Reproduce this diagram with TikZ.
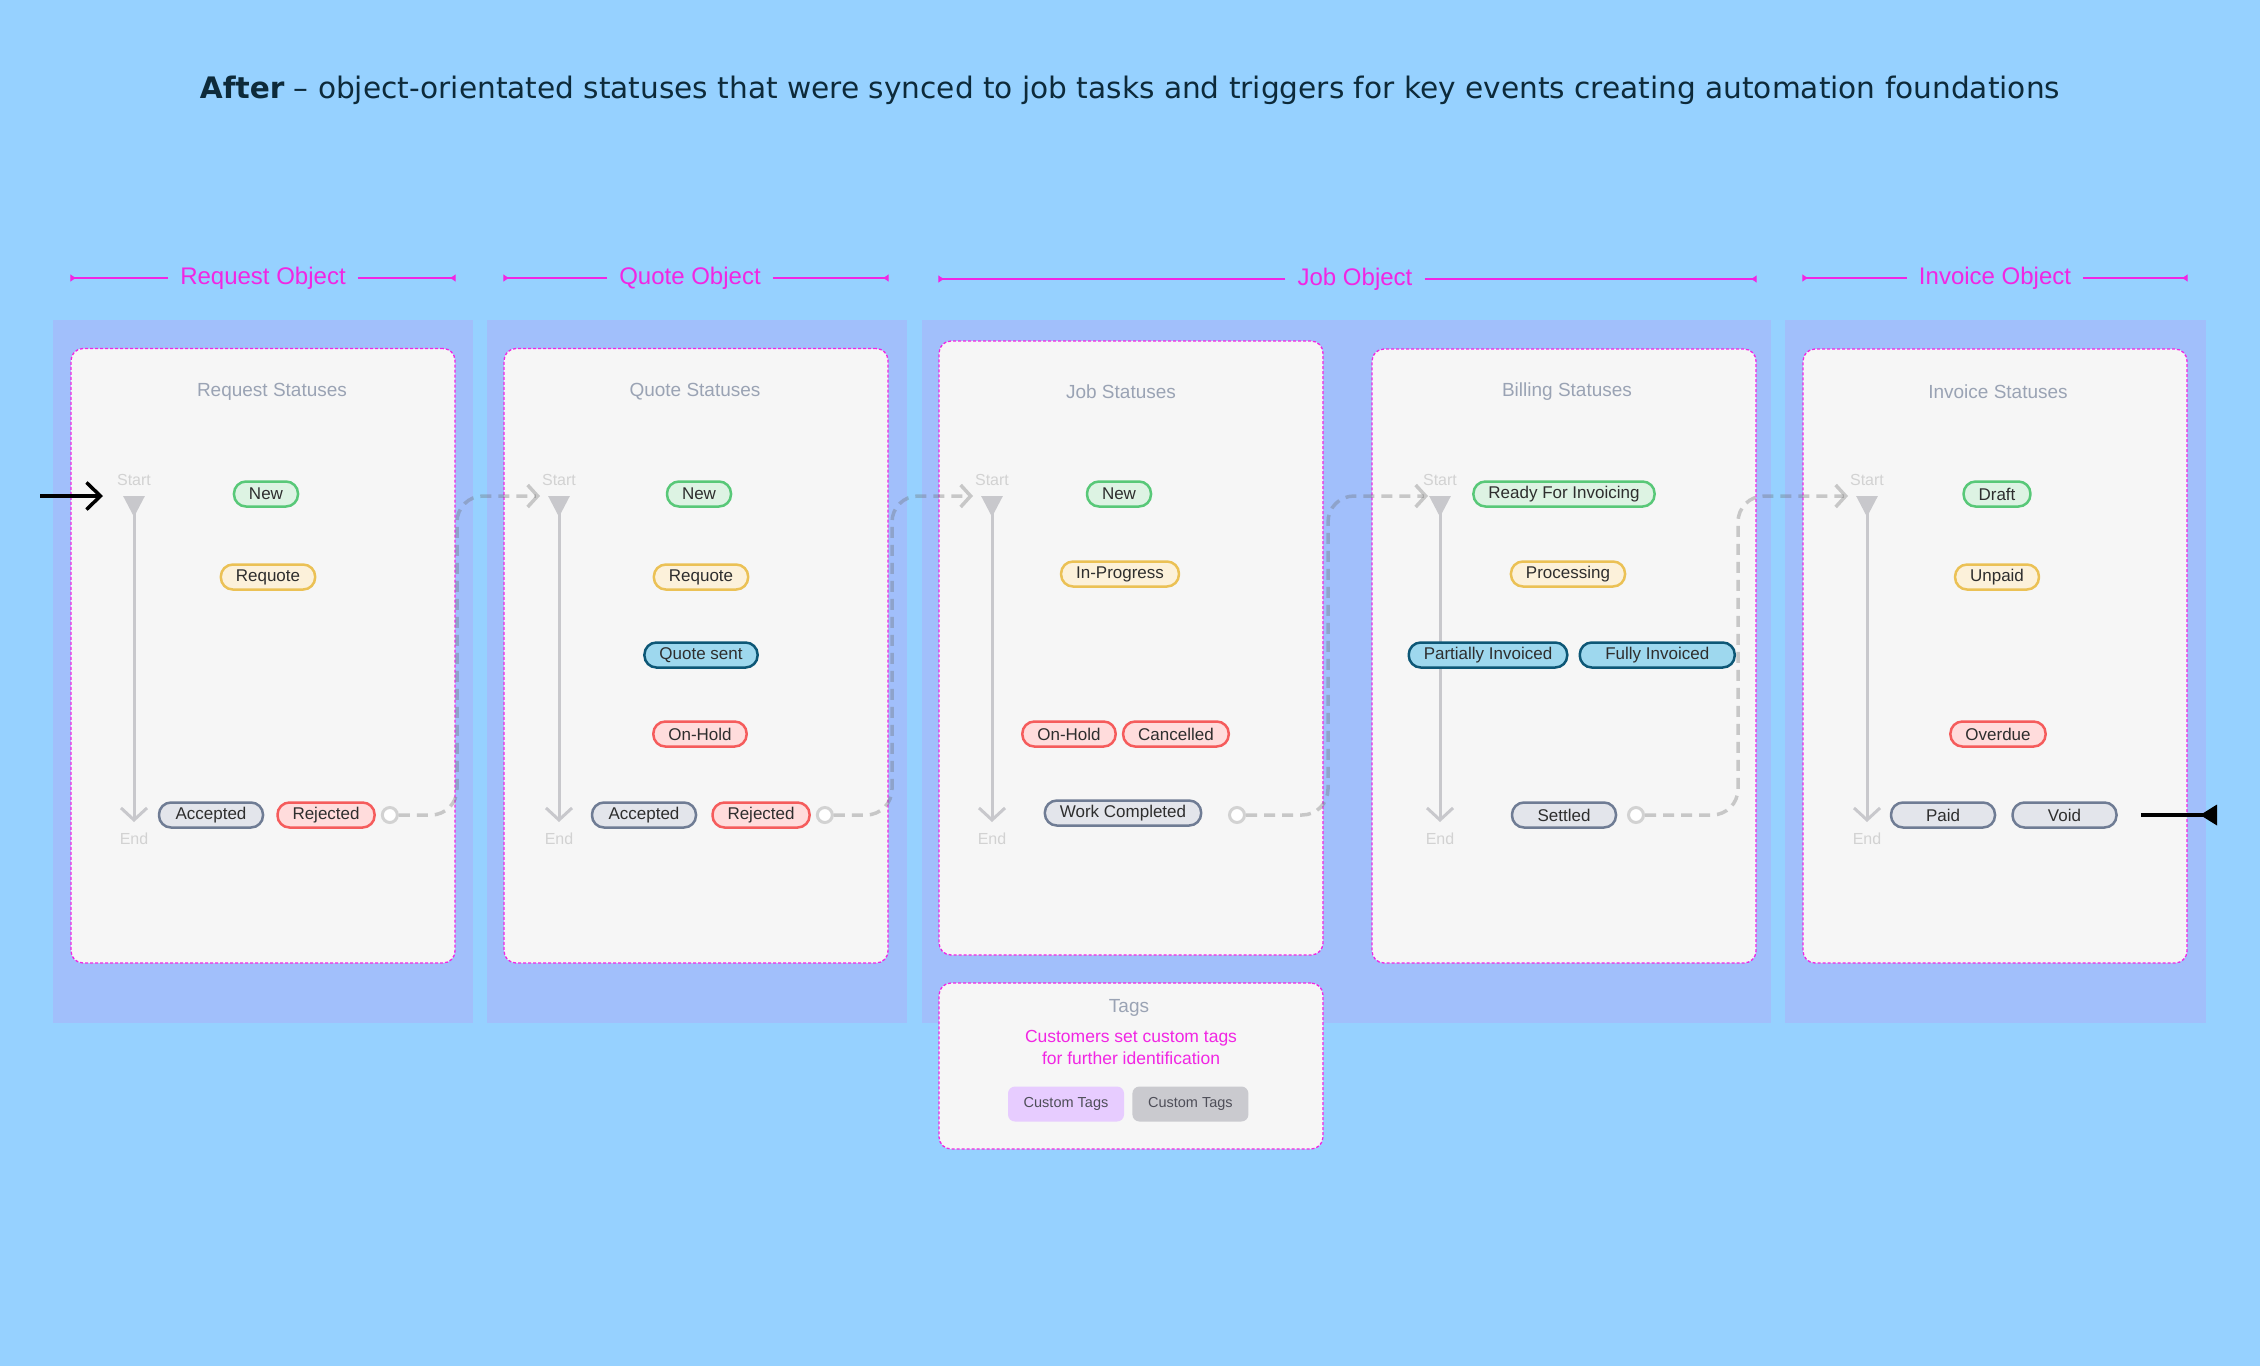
\documentclass[tikz,border=0pt]{standalone}
\usepackage{fontspec}
\setmainfont{Liberation Sans}
\newfontfamily\titlefont{DejaVu Sans}
\usepackage{xcolor}
\usetikzlibrary{arrows.meta,positioning}

\definecolor{sky}{HTML}{96D1FF}
\definecolor{panelc}{HTML}{A1BFFB}
\definecolor{cardc}{HTML}{F6F6F6}
\definecolor{mag}{HTML}{F126E3}
\definecolor{ink}{HTML}{2E2E2E}
\definecolor{mute}{HTML}{9AA3B4}
\definecolor{faint}{HTML}{D2D2D2}
\definecolor{railc}{HTML}{C8C8CC}
\definecolor{linkc}{HTML}{6A6A6A}
\definecolor{titlec}{HTML}{0D2A3A}
\definecolor{greenln}{HTML}{58C878}
\definecolor{greenfl}{HTML}{DDF3E3}
\definecolor{amberln}{HTML}{EBC155}
\definecolor{amberfl}{HTML}{FCF1DA}
\definecolor{tealln}{HTML}{0D5776}
\definecolor{tealfl}{HTML}{9ED8EE}
\definecolor{redln}{HTML}{F55C5C}
\definecolor{redfl}{HTML}{FFDCDC}
\definecolor{slateln}{HTML}{6F7C94}
\definecolor{slatefl}{HTML}{E3E5EB}
\definecolor{lilac}{HTML}{E7CCFF}
\definecolor{tagsgray}{HTML}{CACACF}
\definecolor{btntext}{HTML}{4E4E58}

\begin{document}
\begin{tikzpicture}[x=1pt,y=-1pt,node distance=12pt,
  every node/.style={font=\fontsize{17}{20}\selectfont},
  card/.style={draw=mag,fill=cardc,line width=1.3pt,dash pattern=on 3pt off 2pt,rounded corners=12pt,minimum width=384pt},
  sttitle/.style={text=mute,font=\fontsize{19}{22}\selectfont},
  objlbl/.style={text=mag,inner xsep=12pt,font=\fontsize{24}{28}\selectfont},
  objline/.style={draw=mag,line width=1.5pt,-{Latex[reversed,length=6pt,width=8pt]}},
  pill/.style={rounded corners=12pt,line width=2.5pt,minimum height=25pt,inner xsep=15pt,inner ysep=0pt,text=ink},
  stnew/.style={pill,draw=greenln,fill=greenfl},
  stwait/.style={pill,draw=amberln,fill=amberfl},
  stsent/.style={pill,draw=tealln,fill=tealfl},
  sthold/.style={pill,draw=redln,fill=redfl},
  stdone/.style={pill,draw=slateln,fill=slatefl,minimum width=104pt},
  rail/.style={draw=railc,line width=3pt,arrows={Triangle[reversed,length=21pt,width=21pt]-Straight Barb[length=12pt,width=26pt]}},
  raillbl/.style={text=faint,inner sep=0pt,font=\fontsize{16}{18}\selectfont},
  endpt/.style={circle,draw=faint,fill=white,line width=3pt,minimum size=15pt,inner sep=0pt},
  link/.style={draw=linkc,draw opacity=.33,line width=3.5pt,dash pattern=on 11pt off 7pt,rounded corners=26pt,-{Straight Barb[length=10pt,width=22pt]}},
  tagbtn/.style={rounded corners=7pt,minimum width=116pt,minimum height=35pt,text=btntext,font=\fontsize{14.5}{17}\selectfont}]
  \useasboundingbox (0,0) rectangle (2260,1366);
  \fill[sky] (0,0) rectangle (2260,1366);

  \node[font=\titlefont\fontsize{29.6}{34}\selectfont,text=titlec] (title) at (1130,90) {\textbf{After} – object-orientated statuses that were synced to job tasks and triggers for key events creating automation foundations};

  \fill[panelc] (53,320) rectangle (473,1023);
  \fill[panelc] (487,320) rectangle (907,1023);
  \fill[panelc] (922,320) rectangle (1771,1023);
  \fill[panelc] (1785,320) rectangle (2206,1023);

  \node[card,minimum height=614.5pt] (reqcard) at (263,655.75) {};
  \node[card,minimum height=614.5pt] (quocard) at (696,655.75) {};
  \node[card,minimum height=614pt] (jobcard) at (1131,648) {};
  \node[card,minimum height=614pt] (bilcard) at (1564,656) {};
  \node[card,minimum height=614pt] (invcard) at (1995,656) {};

  \node[objlbl] (reqobj) at (263,278) {Request Object};
  \node[objlbl] (quoobj) at (690,278) {Quote Object};
  \node[objlbl] (jobobj) at (1355,279) {Job Object};
  \node[objlbl] (invobj) at (1995,278) {Invoice Object};
  \draw[objline] (reqobj) -- (reqcard.west |- reqobj); \draw[objline] (reqobj) -- (reqcard.east |- reqobj);
  \draw[objline] (quoobj) -- (quocard.west |- quoobj); \draw[objline] (quoobj) -- (quocard.east |- quoobj);
  \draw[objline] (jobobj) -- (jobcard.west |- jobobj); \draw[objline] (jobobj) -- (bilcard.east |- jobobj);
  \draw[objline] (invobj) -- (invcard.west |- invobj); \draw[objline] (invobj) -- (invcard.east |- invobj);

  \node[sttitle] (reqtitle) at (272,392) {Request Statuses};
  \node[sttitle] (quotitle) at (695,392) {Quote Statuses};
  \node[sttitle] (jobtitle) at (1121,392) {Job Statuses};
  \node[sttitle] (biltitle) at (1567,392) {Billing Statuses};
  \node[sttitle] (invtitle) at (1998,392) {Invoice Statuses};

  \coordinate (rs) at (134,496); \coordinate (re) at (134,822);
  \coordinate (qs) at (559,496); \coordinate (qe) at (559,822);
  \coordinate (js) at (992,496); \coordinate (je) at (992,822);
  \coordinate (bs) at (1440,496); \coordinate (be) at (1440,822);
  \coordinate (is) at (1867,496); \coordinate (ie) at (1867,822);
  \draw[rail] (rs) -- (re); \draw[rail] (qs) -- (qe); \draw[rail] (js) -- (je);
  \draw[rail] (bs) -- (be); \draw[rail] (is) -- (ie);
  \node[raillbl,above=10pt of rs] (rstart) {Start}; \node[raillbl,below=11pt of re] (rend) {End};
  \node[raillbl,above=10pt of qs] (qstart) {Start}; \node[raillbl,below=11pt of qe] (qend) {End};
  \node[raillbl,above=10pt of js] (jstart) {Start}; \node[raillbl,below=11pt of je] (jend) {End};
  \node[raillbl,above=10pt of bs] (bstart) {Start}; \node[raillbl,below=11pt of be] (bend) {End};
  \node[raillbl,above=10pt of is] (istart) {Start}; \node[raillbl,below=11pt of ie] (iend) {End};

  \node[stnew] (rnew) at (266,494) {New};
  \node[stwait] (rreq) at (268,577) {Requote};
  \node[stdone] (racc) at (211,815) {Accepted};
  \node[sthold,right=12pt of racc] (rrej) {Rejected};
  \node[endpt,right=5pt of rrej] (rout) {};

  \node[stnew] (qnew) at (699,494) {New};
  \node[stwait] (qreq) at (701,577) {Requote};
  \node[stsent] (qsent) at (701,655) {Quote sent};
  \node[sthold] (qhold) at (700,734) {On-Hold};
  \node[stdone] (qacc) at (644,815) {Accepted};
  \node[sthold,right=14pt of qacc] (qrej) {Rejected};
  \node[endpt,right=5pt of qrej] (qout) {};

  \node[stnew] (jnew) at (1119,494) {New};
  \node[stwait] (jprog) at (1120,574) {In-Progress};
  \node[sthold] (jhold) at (1069,734) {On-Hold};
  \node[sthold,right=5pt of jhold] (jcanc) {Cancelled};
  \node[stdone] (jdone) at (1123,813) {Work Completed};
  \node[endpt] (jout) at (1237,815) {};

  \node[stnew] (bready) at (1564,494) {Ready For Invoicing};
  \node[stwait] (bproc) at (1568,574) {Processing};
  \node[stsent] (bpart) at (1488,655) {Partially Invoiced};
  \node[stsent,minimum width=155pt,right=10pt of bpart] (bfull) {Fully Invoiced};
  \node[stdone] (bsett) at (1564,815) {Settled};
  \node[endpt] (bout) at (1636,815) {};

  \node[stnew] (idraft) at (1997,494) {Draft};
  \node[stwait] (iunpaid) at (1997,577) {Unpaid};
  \node[sthold] (iover) at (1998,734) {Overdue};
  \node[stdone] (ipaid) at (1943,815) {Paid};
  \node[stdone,right=15pt of ipaid] (ivoid) {Void};

  \coordinate (g1) at (457,0); \coordinate (g2) at (892,0);
  \coordinate (g3) at (1328,0); \coordinate (g4) at (1738,0);
  \draw[link] (rout) -| (g1 |- qs) -- ([xshift=-19pt]qs);
  \draw[link] (qout) -| (g2 |- js) -- ([xshift=-19pt]js);
  \draw[link] (jout) -| (g3 |- bs) -- ([xshift=-12pt]bs);
  \draw[link] (bout) -| (g4 |- is) -- ([xshift=-19pt]is);

  \coordinate (entry) at (40,496); \coordinate (exit) at (2217,815);
  \draw[line width=3.5pt,-{Straight Barb[length=14pt,width=27pt]}] (entry) -- ([xshift=-31pt]rs);
  \draw[line width=3.5pt,-{Triangle[reversed,length=17pt,width=20pt]}] ([xshift=23pt]ivoid.east) -- (exit);

  \node[card,minimum height=166pt] (tagcard) at (1131,1066) {};
  \node[sttitle] (tagtitle) at (1129,1008) {Tags};
  \node[text=mag,align=center,font=\fontsize{17.5}{22}\selectfont] (tagnote) at (1131,1047) {Customers set custom tags\\for further identification};
  \node[tagbtn,fill=lilac] (tag1) at (1066,1104) {Custom Tags};
  \node[tagbtn,fill=tagsgray,right=8pt of tag1] (tag2) {Custom Tags};
\end{tikzpicture}
\end{document}
